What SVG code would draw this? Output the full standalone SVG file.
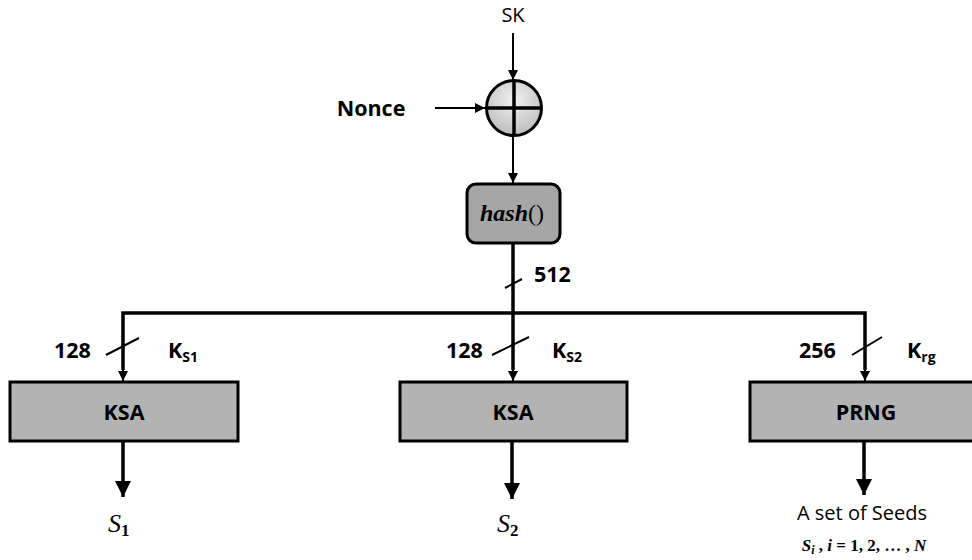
<svg xmlns="http://www.w3.org/2000/svg" width="972" height="560" viewBox="0 0 972 560">
<defs>
<marker id="ah" viewBox="0 0 10 10" refX="10" refY="5" markerWidth="10" markerHeight="10" markerUnits="userSpaceOnUse" orient="auto"><path d="M0,0 L10,5 L0,10 z" fill="#000"/></marker>
<marker id="ahb" viewBox="0 0 10 10" refX="10" refY="5" markerWidth="18" markerHeight="16" markerUnits="userSpaceOnUse" orient="auto"><path d="M0,0 L10,5 L0,10 z" fill="#000"/></marker>
<radialGradient id="cg" cx="0.5" cy="0.35" r="0.7"><stop offset="0" stop-color="#f2f2f2"/><stop offset="1" stop-color="#b8b8b8"/></radialGradient>
</defs>
<style>
.ln{stroke:#000;stroke-width:2;fill:none}
.thk{stroke:#000;stroke-width:3.5;fill:none}
.box{fill:#b3b3b3;stroke:#000;stroke-width:3}
.lab{font-family:"Open Sans","Liberation Sans",sans-serif;font-weight:bold;font-size:21.5px;fill:#000}
.txt{font-family:"Open Sans","Liberation Sans",sans-serif;font-size:20px;fill:#000}
.math{font-family:"Liberation Serif","DejaVu Serif",serif;font-style:italic;fill:#000}
</style>
<rect width="972" height="560" fill="#fff"/>
<g id="connectors">
<line class="ln" x1="513" y1="33" x2="513" y2="80" marker-end="url(#ah)"/>
<line class="ln" x1="435" y1="108" x2="485" y2="108" marker-end="url(#ah)"/>
<line class="ln" x1="513" y1="137" x2="513" y2="183" marker-end="url(#ah)"/>
<line class="thk" x1="513" y1="244" x2="513" y2="313"/>
<line class="ln" x1="505" y1="288" x2="522" y2="279"/>
<polyline class="thk" points="123,370 123,313 865,313 865,370"/>
<line class="thk" x1="513" y1="313" x2="513" y2="370"/>
<line class="ln" x1="123" y1="366" x2="123" y2="381" marker-end="url(#ah)"/>
<line class="ln" x1="513" y1="366" x2="513" y2="381" marker-end="url(#ah)"/>
<line class="ln" x1="865" y1="366" x2="865" y2="381" marker-end="url(#ah)"/>
<line class="ln" x1="106" y1="355" x2="139" y2="338"/>
<line class="ln" x1="492" y1="355" x2="529" y2="337"/>
<line class="ln" x1="852" y1="355" x2="882" y2="337"/>
<line class="thk" x1="123" y1="441" x2="123" y2="497" marker-end="url(#ahb)"/>
<line class="thk" x1="512" y1="441" x2="512" y2="499" marker-end="url(#ahb)"/>
<line class="thk" x1="864" y1="441" x2="864" y2="495" marker-end="url(#ahb)"/>
</g>
<g id="sk"><text class="txt" x="513" y="22" text-anchor="middle">SK</text></g>
<g id="nonce"><text class="lab" x="371" y="116" text-anchor="middle">Nonce</text></g>
<g id="xor">
<circle cx="514" cy="108" r="27.5" fill="url(#cg)" stroke="#000" stroke-width="3"/>
<line class="thk" x1="514" y1="80" x2="514" y2="136"/>
<line class="thk" x1="486" y1="108" x2="542" y2="108"/>
</g>
<g id="hash">
<rect x="467" y="184" width="93" height="59" rx="9" fill="#a6a6a6" stroke="#000" stroke-width="3"/>
<text x="512" y="221" text-anchor="middle" font-family="Liberation Serif,DejaVu Serif,serif" font-size="24"><tspan font-style="italic" font-weight="bold">hash</tspan><tspan>()</tspan></text>
</g>
<g id="l512"><text class="lab" x="534" y="282">512</text></g>
<g id="ksa1">
<rect class="box" x="10" y="382" width="228" height="59"/>
<text class="lab" x="124" y="420" text-anchor="middle">KSA</text>
</g>
<g id="ksa2">
<rect class="box" x="400" y="382" width="227" height="59"/>
<text class="lab" x="513" y="420" text-anchor="middle">KSA</text>
</g>
<g id="prng">
<rect class="box" x="750" y="382" width="224" height="59"/>
<text class="lab" x="866" y="420" text-anchor="middle">PRNG</text>
</g>
<g id="labels">
<text class="lab" x="54" y="358">128</text>
<text class="lab" x="168" y="358">K<tspan font-size="14" dy="4">S1</tspan></text>
<text class="lab" x="446" y="358">128</text>
<text class="lab" x="552" y="358">K<tspan font-size="14" dy="4">S2</tspan></text>
<text class="lab" x="799" y="358">256</text>
<text class="lab" x="907" y="358">K<tspan font-size="14" dy="4">rg</tspan></text>
</g>
<g id="s1"><text class="math" x="108" y="532" font-size="26">S<tspan font-style="normal" font-weight="bold" font-size="17" dy="4">1</tspan></text></g>
<g id="s2"><text class="math" x="497" y="532" font-size="26">S<tspan font-style="normal" font-weight="bold" font-size="17" dy="4">2</tspan></text></g>
<g id="seeds">
<text class="txt" x="862" y="520" text-anchor="middle" font-size="23">A set of Seeds</text>
<text class="math" x="864" y="551" text-anchor="middle" font-size="17" font-weight="bold">S<tspan font-size="12" dy="3">i</tspan><tspan dy="-3" font-style="normal"> , </tspan>i<tspan font-style="normal"> = 1, 2, … , </tspan>N</text>
</g>
</svg>
